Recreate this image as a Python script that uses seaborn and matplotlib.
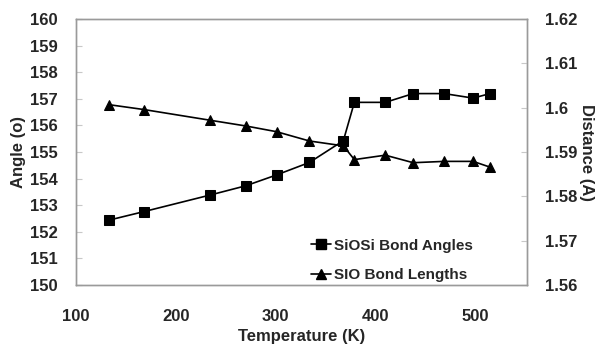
import matplotlib
matplotlib.use("Agg")
import matplotlib.pyplot as plt
import seaborn as sns
import pandas as pd
from matplotlib.lines import Line2D

temps = [133, 168, 234, 270, 301, 334, 368, 379, 410, 438, 469, 498, 515]
angles = [152.44, 152.76, 153.38, 153.73, 154.14, 154.61, 155.43, 156.87, 156.87, 157.2, 157.2, 157.03, 157.2]
lengths = [1.6007, 1.5996, 1.5972, 1.5959, 1.5946, 1.5925, 1.5914, 1.5883, 1.5893, 1.5876, 1.5879, 1.5879, 1.5866]

x_ticks = [100, 200, 300, 400, 500]
left_ticks = list(range(150, 161))
right_ticks = [1.56, 1.57, 1.58, 1.59, 1.60, 1.61, 1.62]
right_labels = ["1.56", "1.57", "1.58", "1.59", "1.6", "1.61", "1.62"]

sns.set_style("white")
plt.rcParams['font.family'] = ['Liberation Sans', 'DejaVu Sans']
plt.rcParams['font.weight'] = 'bold'

df = pd.DataFrame({"T": temps, "angle": angles, "length": lengths})

fig = plt.figure(figsize=(6.05, 3.48), dpi=100)
ax = fig.add_axes([0.1256, 0.181, 0.7454, 0.764])
ax2 = ax.twinx()

sns.lineplot(data=df, x="T", y="angle", ax=ax, color="black", marker="s",
             markersize=7, linewidth=1.2, markeredgecolor="black")
sns.lineplot(data=df, x="T", y="length", ax=ax2, color="black", marker="^",
             markersize=7.5, linewidth=1.2, markeredgecolor="black")

ax.set_xlim(100, 552)
ax.set_ylim(150, 160)
ax2.set_ylim(1.56, 1.62)
ax.set_xticks(x_ticks)
ax.set_yticks(left_ticks)
ax2.set_yticks(right_ticks)
ax2.set_yticklabels(right_labels)

for a in (ax, ax2):
    for s in a.spines.values():
        s.set_color("#9a9a9a")
        s.set_linewidth(1.0)
    a.tick_params(direction="in", length=4, color="#c8c8c8", labelsize=12)
ax.tick_params(axis="x", pad=17)
ax.tick_params(axis="y", pad=13)
ax2.tick_params(axis="y", pad=13)

for lab in ax.get_xticklabels() + ax.get_yticklabels() + ax2.get_yticklabels():
    lab.set_fontweight("bold")

ax.set_xlabel("Temperature (K)", fontsize=12, fontweight="bold", labelpad=4)
ax.set_ylabel("Angle (o)", fontsize=12, fontweight="bold", labelpad=3)
ax2.set_ylabel("Distance (A)", fontsize=12, fontweight="bold", rotation=-90, labelpad=12)

handles = [Line2D([], [], color="black", marker="s", markersize=7, linewidth=1.2),
           Line2D([], [], color="black", marker="^", markersize=7.5, linewidth=1.2)]
leg = ax.legend(handles, ["SiOSi Bond Angles", "SIO Bond Lengths"], loc="lower right",
                bbox_to_anchor=(0.91, -0.04), frameon=False, handlelength=1.3,
                handletextpad=0.2, labelspacing=1.0, prop={"weight": "bold", "size": 11})
ax2.get_legend() and ax2.get_legend().remove()

fig.savefig("out.png", dpi=100)
